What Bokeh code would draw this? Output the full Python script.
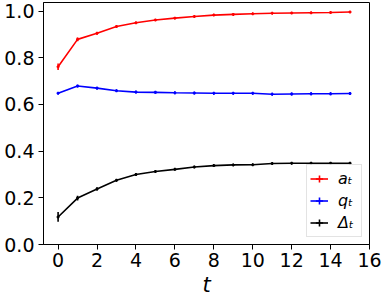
from bokeh.plotting import figure
from bokeh.models import (ColumnDataSource, Legend, LegendItem, FixedTicker,
                          PrintfTickFormatter, Range1d)
from bokeh.embed import file_html
from bokeh.resources import INLINE

t = list(range(16))
a_vals = [0.762, 0.879, 0.905, 0.934, 0.950, 0.962, 0.970, 0.977,
          0.983, 0.986, 0.989, 0.991, 0.992, 0.993, 0.994, 0.996]
a_err = [0.014, 0.008, 0.006, 0.005, 0.005, 0.004, 0.004, 0.004,
         0.004, 0.004, 0.004, 0.004, 0.004, 0.004, 0.004, 0.004]
q_vals = [0.648, 0.679, 0.670, 0.659, 0.653, 0.652, 0.650, 0.649,
          0.648, 0.648, 0.648, 0.644, 0.645, 0.646, 0.646, 0.647]
q_err = [0.005, 0.006, 0.006, 0.006, 0.006, 0.006, 0.006, 0.006,
         0.006, 0.006, 0.006, 0.006, 0.006, 0.006, 0.006, 0.006]
d_vals = [0.118, 0.199, 0.238, 0.275, 0.300, 0.313, 0.322, 0.332,
          0.338, 0.341, 0.342, 0.347, 0.348, 0.348, 0.348, 0.348]
d_err = [0.021, 0.010, 0.007, 0.006, 0.006, 0.005, 0.005, 0.005,
         0.005, 0.005, 0.005, 0.005, 0.005, 0.005, 0.005, 0.005]
labels = ["a\u209c", "q\u209c", "\u0394\u209c"]
colors = ["#ff0000", "#0000ff", "#000000"]
x_ticks = list(range(0, 17, 2))
y_ticks = [0.0, 0.2, 0.4, 0.6, 0.8, 1.0]

p = figure(width=383, height=301, output_backend="svg", toolbar_location=None,
           x_range=Range1d(-0.75, 16.0), y_range=Range1d(0.0, 1.037),
           min_border_left=43, min_border_right=14, min_border_top=2,
           min_border_bottom=57)
p.grid.visible = False
p.outline_line_color = "black"
p.outline_line_width = 1
p.background_fill_color = "white"
p.border_fill_color = "white"

for ax in (p.xaxis[0], p.yaxis[0]):
    ax.axis_line_color = "black"
    ax.axis_line_width = 1
    ax.major_tick_in = 0
    ax.major_tick_out = 5
    ax.major_tick_line_color = "black"
    ax.minor_tick_line_color = None
    ax.major_label_text_font = "DejaVu Sans"
    ax.major_label_text_font_size = "19px"
    ax.major_label_text_color = "black"

p.xaxis.ticker = FixedTicker(ticks=x_ticks)
p.yaxis.ticker = FixedTicker(ticks=y_ticks)
p.yaxis.formatter = PrintfTickFormatter(format="%.1f")
p.xaxis.major_label_standoff = 3
p.yaxis.major_label_standoff = 4
p.xaxis.axis_label = "t"
p.xaxis.axis_label_text_font = "DejaVu Sans"
p.xaxis.axis_label_text_font_style = "italic"
p.xaxis.axis_label_text_font_size = "21px"
p.xaxis.axis_label_text_color = "black"
p.xaxis.axis_label_standoff = 3

items = []
for vals, errs, col, lab in zip([a_vals, q_vals, d_vals], [a_err, q_err, d_err],
                                colors, labels):
    src = ColumnDataSource(dict(t=t, y=vals,
                                lo=[v - e for v, e in zip(vals, errs)],
                                hi=[v + e for v, e in zip(vals, errs)]))
    ln = p.line("t", "y", source=src, line_color=col, line_width=1.6)
    p.segment(x0="t", y0="lo", x1="t", y1="hi", source=src,
              line_color=col, line_width=1.6)
    cr = p.scatter("t", "y", source=src, marker="cross", size=3,
                   line_color=col, line_width=1.6)
    items.append(LegendItem(label=lab, renderers=[ln, cr]))

legend = Legend(items=items, location="bottom_right", margin=7, padding=3,
                spacing=1, glyph_width=18, glyph_height=21, label_height=21,
                label_standoff=10, label_text_font="DejaVu Sans",
                label_text_font_size="16px", label_text_font_style="italic",
                label_text_color="black",
                border_line_color="#c8c8c8", border_line_width=1,
                background_fill_color="white", background_fill_alpha=0.8)
p.add_layout(legend)

open("out.html", "w").write(file_html(p, INLINE))
